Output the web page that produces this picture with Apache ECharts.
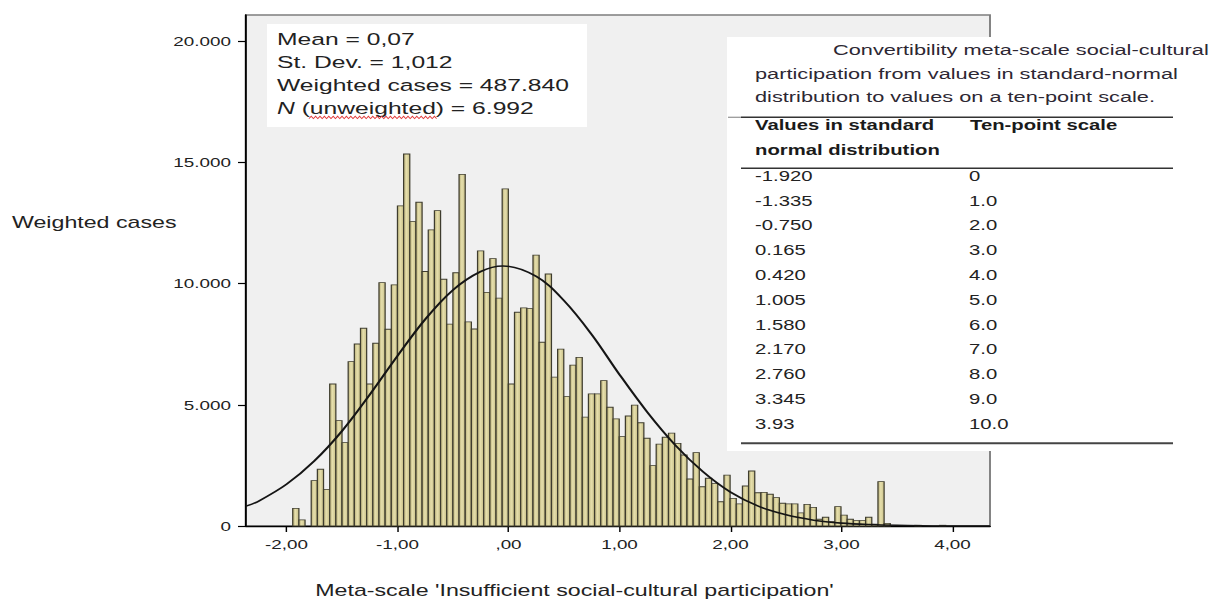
<!DOCTYPE html>
<html>
<head>
<meta charset="utf-8">
<script src="https://cdn.jsdelivr.net/npm/echarts@6.0.0/dist/echarts.min.js"></script>
<style>
  html, body { margin: 0; padding: 0; background: #ffffff; overflow: hidden; }
  #stage { width: 1223px; height: 599px; overflow: hidden; position: relative; background: #ffffff; }
  #chart { position: absolute; left: 0; top: 0; height: 599px; transform-origin: 0 0; }
</style>
</head>
<body>
<div id="stage"><div id="chart"></div></div>
<script>
// ---- data -------------------------------------------------------------
// Histogram bins of the meta-scale (standard-normal units), weighted cases per bin
const binStart = -1.944;
const binWidth = 0.0555;
const weightedCounts = [
  730, 250, 0, 1870, 2340, 1510, 5860, 4350, 3440, 6780,
  7510, 8160, 5860, 7540, 10040, 8120, 9950, 13210, 15350, 12560,
  13360, 10500, 12220, 13010, 10180, 8330, 10450, 14510, 8420, 8130,
  11350, 9640, 11030, 9400, 13910, 5860, 8820, 9000, 8970, 11180,
  7580, 10400, 6140, 7300, 5340, 6640, 6960, 4490, 5450, 5450,
  6000, 4900, 4420, 3690, 4540, 4990, 4260, 3620, 2490, 3380,
  3660, 3830, 3410, 2930, 1940, 3030, 1620, 1970, 1760, 1000,
  2100, 1140, 910, 1650, 2270, 1370, 1390, 1310, 1170, 940,
  910, 910, 540, 890, 770, 280, 360, 180, 800, 450,
  280, 220, 220, 360, 80, 1830, 110, 0, 0, 0,
  0, 30, 0, 0, 0, 30
];

// Fitted normal curve (weighted cases)
const curveX = [-2.365, -2.25, -2.0, -1.75, -1.5, -1.25, -1.0, -0.75, -0.5, -0.25, -0.05,
                0.25, 0.5, 0.75, 1.0, 1.25, 1.5, 1.75, 2.0, 2.25, 2.5, 2.75, 3.0, 3.25, 3.5, 4.0, 4.338];
const curveY = [820, 1030, 1720, 2680, 3920, 5420, 7020, 8530, 9740, 10500, 10730,
                10300, 9300, 7900, 6250, 4700, 3350, 2250, 1400, 820, 460, 240, 120, 60, 30, 0, 0];

// Axis ticks
const xTickValues = [-2, -1, 0, 1, 2, 3, 4];
const xTickLabels = ['-2,00', '-1,00', ',00', '1,00', '2,00', '3,00', '4,00'];
const yTickValues = [0, 5000, 10000, 15000, 20000];
const yTickLabels = ['0', '5.000', '10.000', '15.000', '20.000'];

// Summary statistics box
const statLines = ['Mean = 0,07', 'St. Dev. = 1,012', 'Weighted cases = 487.840', '{it|N} (unweighted) = 6.992'];

// Conversion table
const tableTitle = [
  'Convertibility meta-scale social-cultural',
  'participation from values in standard-normal',
  'distribution to values on a ten-point scale.'
];
const tableHeadLeft = ['Values in standard', 'normal distribution'];
const tableHeadRight = 'Ten-point scale';
const normalValues = ['-1.920', '-1.335', '-0.750', '0.165', '0.420', '1.005', '1.580', '2.170', '2.760', '3.345', '3.93'];
const tenPointValues = ['0', '1.0', '2.0', '3.0', '4.0', '5.0', '6.0', '7.0', '8.0', '9.0', '10.0'];

// ---- layout ---------------------------------------------------------------
// The chart is laid out at a narrower width and widened to the page width.
const STRETCH = 1.45;
const W = 1223 / STRETCH;
const px = v => v / STRETCH;           // page x -> chart x
const FONT = '"Liberation Sans", Arial, Helvetica, sans-serif';
const TEXT = '#222222';

const el = document.getElementById('chart');
el.style.width = W + 'px';
el.style.transform = 'scaleX(' + STRETCH + ')';

const chart = echarts.init(el, null, { renderer: 'svg', width: W, height: 599 });

const barData = weightedCounts.map((c, i) => [binStart + i * binWidth, binStart + (i + 1) * binWidth, c]);

const barFill = new echarts.graphic.LinearGradient(0, 0, 1, 0, [
  { offset: 0, color: '#b7ae77' },
  { offset: 0.45, color: '#e6dfac' },
  { offset: 1, color: '#c8bf88' }
]);

const graphics = [];

// statistics box
graphics.push({
  type: 'rect', z: 100,
  shape: { x: px(267), y: 24, width: px(320), height: 103 },
  style: { fill: '#ffffff' }
});
statLines.forEach((t, i) => {
  graphics.push({
    type: 'text', z: 101, x: px(277), y: 39 + i * 23,
    style: {
      text: t, fill: TEXT, fontSize: 17, fontFamily: FONT, verticalAlign: 'middle',
      rich: { it: { fontStyle: 'italic', fontSize: 17, fontFamily: FONT, fill: TEXT } }
    }
  });
});
// spell-check squiggle under "(unweighted)"
(function () {
  const pts = [];
  let k = 0;
  for (let x = 309; x <= 437; x += 2.2, k++) pts.push([px(x), k % 2 ? 116.3 : 118.6]);
  graphics.push({ type: 'polyline', z: 102, shape: { points: pts }, style: { stroke: '#e23b3b', lineWidth: 0.8, fill: null } });
})();

// conversion table
graphics.push({
  type: 'rect', z: 100,
  shape: { x: px(727), y: 37, width: px(460), height: 414 },
  style: { fill: '#ffffff' }
});
graphics.push({ type: 'text', z: 101, x: px(833), y: 50, style: { text: tableTitle[0], fill: '#2d2733', fontSize: 15, fontFamily: FONT, verticalAlign: 'middle' } });
graphics.push({ type: 'text', z: 101, x: px(755), y: 73.5, style: { text: tableTitle[1], fill: '#2d2733', fontSize: 15, fontFamily: FONT, verticalAlign: 'middle' } });
graphics.push({ type: 'text', z: 101, x: px(755), y: 97, style: { text: tableTitle[2], fill: '#2d2733', fontSize: 15, fontFamily: FONT, verticalAlign: 'middle' } });

graphics.push({ type: 'line', z: 101, shape: { x1: px(728), y1: 117.3, x2: px(741), y2: 117.3 }, style: { stroke: '#9a9a9a', lineWidth: 1.3 } });
graphics.push({ type: 'line', z: 101, shape: { x1: px(741), y1: 117.3, x2: px(1173), y2: 117.3 }, style: { stroke: '#333333', lineWidth: 1.4 } });
graphics.push({ type: 'text', z: 101, x: px(755), y: 125.5, style: { text: tableHeadLeft[0], fill: '#1a1a1a', fontSize: 14, fontWeight: 'bold', fontFamily: FONT, verticalAlign: 'middle' } });
graphics.push({ type: 'text', z: 101, x: px(755), y: 150, style: { text: tableHeadLeft[1], fill: '#1a1a1a', fontSize: 14, fontWeight: 'bold', fontFamily: FONT, verticalAlign: 'middle' } });
graphics.push({ type: 'text', z: 101, x: px(970), y: 125.5, style: { text: tableHeadRight, fill: '#1a1a1a', fontSize: 14, fontWeight: 'bold', fontFamily: FONT, verticalAlign: 'middle' } });
graphics.push({ type: 'line', z: 101, shape: { x1: px(741), y1: 168.3, x2: px(1173), y2: 168.3 }, style: { stroke: '#333333', lineWidth: 1.4 } });

normalValues.forEach((v, i) => {
  const y = 176 + i * 24.8;
  graphics.push({ type: 'text', z: 101, x: px(755), y: y, style: { text: v, fill: '#222222', fontSize: 14, fontFamily: FONT, verticalAlign: 'middle' } });
  graphics.push({ type: 'text', z: 101, x: px(969), y: y, style: { text: tenPointValues[i], fill: '#222222', fontSize: 14, fontFamily: FONT, verticalAlign: 'middle' } });
});
graphics.push({ type: 'line', z: 101, shape: { x1: px(741), y1: 443.3, x2: px(1173), y2: 443.3 }, style: { stroke: '#444444', lineWidth: 2 } });

// axis titles
graphics.push({ type: 'text', z: 101, x: px(12), y: 222, style: { text: 'Weighted cases', fill: TEXT, fontSize: 16, fontFamily: FONT, verticalAlign: 'middle' } });
graphics.push({ type: 'text', z: 101, x: px(574.5), y: 590, style: { text: "Meta-scale 'Insufficient social-cultural participation'", fill: TEXT, fontSize: 16, fontFamily: FONT, align: 'center', verticalAlign: 'middle' } });

const option = {
  animation: false,
  backgroundColor: '#ffffff',
  grid: {
    left: px(246), top: 15, width: px(990 - 246), height: 511,
    show: true, backgroundColor: '#f0f0f0', borderColor: '#7d7d7d', borderWidth: 1.3
  },
  xAxis: {
    type: 'value', min: -2.365, max: 4.338,
    axisLine: { show: true, onZero: false, lineStyle: { color: '#000000', width: 1.3 } },
    axisTick: { show: true, length: 6, customValues: xTickValues, lineStyle: { color: '#000000', width: 1 } },
    axisLabel: {
      customValues: xTickValues, margin: 12, color: TEXT, fontSize: 13, fontFamily: FONT,
      formatter: v => { const i = xTickValues.indexOf(Math.round(v * 100) / 100); return i >= 0 ? xTickLabels[i] : ''; }
    },
    splitLine: { show: false }
  },
  yAxis: {
    type: 'value', min: 0, max: 21085,
    axisLine: { show: true, onZero: false, lineStyle: { color: '#000000', width: 1.3 } },
    axisTick: { show: true, length: px(8), customValues: yTickValues, lineStyle: { color: '#000000', width: 1.2 } },
    axisLabel: {
      customValues: yTickValues, margin: px(15), color: TEXT, fontSize: 13, fontFamily: FONT,
      formatter: v => { const i = yTickValues.indexOf(v); return i >= 0 ? yTickLabels[i] : ''; }
    },
    splitLine: { show: false }
  },
  series: [
    {
      type: 'custom',
      name: 'Weighted cases',
      data: barData,
      encode: { x: [0, 1], y: 2 },
      renderItem: function (params, api) {
        const x0 = api.value(0), x1 = api.value(1), c = api.value(2);
        if (!c) return null;
        const p0 = api.coord([x0, c]);
        const p1 = api.coord([x1, 0]);
        return {
          type: 'rect',
          shape: { x: p0[0], y: p0[1], width: p1[0] - p0[0], height: p1[1] - p0[1] },
          style: { fill: barFill, stroke: '#3e3c2e', lineWidth: 0.85 }
        };
      },
      z: 2
    },
    {
      type: 'line',
      name: 'Normal',
      data: curveX.map((x, i) => [x, curveY[i]]),
      smooth: 0.35,
      showSymbol: false,
      clip: true,
      lineStyle: { color: '#151515', width: 1.6 },
      z: 3
    }
  ],
  graphic: graphics
};

chart.setOption(option);
</script>
</body>
</html>
